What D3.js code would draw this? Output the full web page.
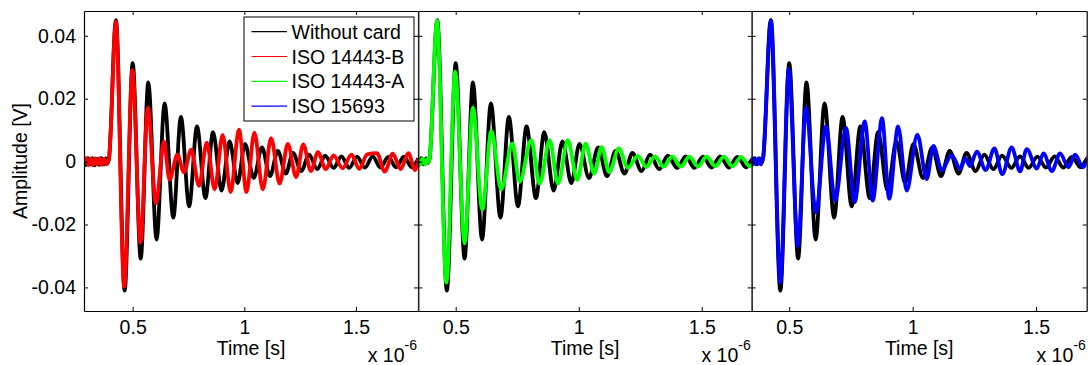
<!DOCTYPE html>
<html><head><meta charset="utf-8">
<script src="https://cdn.jsdelivr.net/npm/d3@7"></script>
<style>body{margin:0;background:#fff} svg{display:block} text{font-family:"Liberation Sans",Arial,Helvetica,sans-serif;fill:#000}</style>
</head><body><svg id="c" width="1089" height="365"></svg>
<script>
// ---- data (time in units of 1e-6 s, amplitude in V) ----
const xTicks = [0.5, 1, 1.5];
const xTickLabels = ["0.5", "1", "1.5"];
const yTicks = [-0.04, -0.02, 0, 0.02, 0.04];
const yTickLabels = ["-0.04", "-0.02", "0", "0.02", "0.04"];
const seriesNames = ["Without card", "ISO 14443-B", "ISO 14443-A", "ISO 15693"];
const seriesColors = ["#000000", "#ff0000", "#00ff00", "#0000ff"];
const panelXDomains = [[0.282, 1.778], [0.348, 1.703], [0.348, 1.705]];
const yDomain = [-0.0475, 0.0479];

const withoutCard = [[0.282,0.0006],[0.29,-0.0011],[0.30,0.0011],[0.31,-0.0009],[0.32,0.0011],[0.33,-0.0012],[0.34,0.0009],[0.35,-0.001],[0.36,0.0011],[0.37,-0.0009],[0.38,0.001],[0.389,-0.0004],[0.394,0.001],
 [0.425,0.045],[0.464,-0.041],[0.500,0.0313],[0.536,-0.0308],[0.570,0.0252],[0.607,-0.0248],[0.643,0.0185],[0.682,-0.0178],[0.716,0.0142],[0.753,-0.0142],[0.788,0.0112],[0.826,-0.0116],[0.860,0.0094],[0.898,-0.0092],[0.934,0.0064],[0.970,-0.0068],[1.003,0.0056],[1.042,-0.0052],[1.079,0.0045],[1.115,-0.0046],[1.150,0.0034],[1.186,-0.0038],[1.218,0.0028],[1.255,-0.003],[1.29,0.0022],[1.327,-0.0024],[1.362,0.0019],[1.40,-0.002],[1.435,0.0017],[1.47,-0.002],[1.505,0.0016],[1.54,-0.0019],[1.575,0.0017],[1.61,-0.0019],[1.645,0.0015],[1.68,-0.0018],[1.715,0.0016],[1.75,-0.0018],[1.78,0.001]];

const iso14443B = [[0.282,-0.0006],[0.292,0.0011],[0.302,-0.0011],[0.312,0.001],[0.322,-0.0012],[0.332,0.001],[0.342,-0.0009],[0.352,0.0011],[0.362,-0.001],[0.372,0.0009],[0.382,-0.0009],[0.39,0.0002],[0.394,0.001],
 [0.425,0.0445],[0.462,-0.0398],[0.499,0.029],[0.535,-0.0258],[0.568,0.0172],[0.604,-0.0133],[0.64,0.0064],[0.665,-0.0058],[0.70,0.0022],[0.73,-0.0034],[0.762,0.0038],[0.797,-0.0077],[0.832,0.006],[0.867,-0.0088],[0.903,0.0085],[0.939,-0.0097],[0.976,0.0102],[1.01,-0.0097],[1.045,0.0092],[1.083,-0.0088],[1.12,0.0075],[1.158,-0.007],[1.195,0.0056],[1.232,-0.0049],[1.264,0.0055],[1.298,-0.003],[1.33,0.003],[1.365,-0.0024],[1.40,0.002],[1.44,-0.0021],[1.48,0.0022],[1.515,-0.0023],[1.55,0.0023],[1.594,0.0027],[1.629,-0.0032],[1.665,0.0025],[1.70,-0.0024],[1.735,0.0027],[1.765,-0.0027],[1.78,0.0008]];

const iso14443A = [[0.282,0.0007],[0.30,-0.0009],[0.315,0.001],[0.33,-0.0009],[0.345,0.001],[0.355,-0.001],[0.365,0.001],[0.375,-0.0009],[0.385,0.0009],[0.39,-0.0002],[0.394,0.001],
 [0.424,0.0448],[0.462,-0.0385],[0.498,0.0286],[0.536,-0.026],[0.570,0.0172],[0.608,-0.0152],[0.645,0.0098],[0.685,-0.0088],[0.73,0.0058],[0.76,-0.0064],[0.807,0.0068],[0.841,-0.007],[0.882,0.0068],[0.916,-0.007],[0.956,0.0068],[0.994,-0.0058],[1.028,0.0057],[1.063,-0.0038],[1.093,0.0046],[1.124,-0.0033],[1.163,0.0042],[1.20,-0.002],[1.24,0.0018],[1.275,-0.0017],[1.31,0.0017],[1.345,-0.0016],[1.38,0.0017],[1.415,-0.0016],[1.45,0.0016],[1.485,-0.0016],[1.52,0.0016],[1.555,-0.0015],[1.59,0.0016],[1.625,-0.0015],[1.66,0.0015],[1.695,-0.0015],[1.73,0.0014],[1.78,0.0]];

const iso15693 = [[0.282,-0.0007],[0.30,0.001],[0.315,-0.001],[0.33,0.0009],[0.345,-0.001],[0.355,0.001],[0.365,-0.0009],[0.375,0.001],[0.385,-0.0009],[0.389,0.0002],[0.394,0.001],
 [0.426,0.045],[0.464,-0.0385],[0.498,0.0294],[0.535,-0.0268],[0.568,0.0172],[0.608,-0.0162],[0.649,0.0112],[0.686,-0.0124],[0.73,0.0107],[0.765,-0.0129],[0.806,0.0128],[0.838,-0.0124],[0.876,0.0138],[0.905,-0.0118],[0.941,0.0112],[0.976,-0.0092],[1.019,0.0086],[1.057,-0.0056],[1.084,0.005],[1.118,-0.0027],[1.158,0.0021],[1.192,-0.0022],[1.214,0.001],[1.232,-0.0014],[1.26,0.0032],[1.296,-0.0027],[1.331,0.0042],[1.363,-0.004],[1.401,0.0045],[1.435,-0.0031],[1.462,0.004],[1.503,-0.0022],[1.53,0.0026],[1.564,-0.003],[1.597,0.0026],[1.631,-0.0018],[1.658,0.0022],[1.69,-0.0018],[1.72,0.0015],[1.75,-0.0015],[1.78,0.001]];

const allSeries = [withoutCard, iso14443B, iso14443A, iso15693];
// which series each panel shows (drawn in order, last on top)
const panelSeries = [[0, 1], [0, 2], [0, 3]];

// ---- layout ----
const svg = d3.select("#c");
const plotTop = 11, plotBottom = 311;
const panelX = [[84, 418], [418.3, 751.7], [751.7, 1086.7]];
const y = d3.scaleLinear().domain(yDomain).range([plotBottom, plotTop]);
const tickLen = 4;
const fontSize = 19.5;

panelX.forEach(([x0, x1], p) => {
  const x = d3.scaleLinear().domain(panelXDomains[p]).range([x0, x1]);
  const g = svg.append("g");
  g.append("rect").attr("x", x0).attr("y", plotTop).attr("width", x1 - x0).attr("height", plotBottom - plotTop).attr("fill", "#fff");
  const cid = "clip" + p;
  g.append("clipPath").attr("id", cid).append("rect").attr("x", x0).attr("y", plotTop).attr("width", x1 - x0).attr("height", plotBottom - plotTop);
  const line = d3.line().x(d => x(d[0])).y(d => y(d[1])).curve(d3.curveMonotoneX);
  const dg = g.append("g").attr("clip-path", `url(#${cid})`);
  panelSeries[p].forEach(si => {
    dg.append("path").datum(allSeries[si]).attr("d", line)
      .attr("fill", "none").attr("stroke", seriesColors[si]).attr("stroke-width", 3.8)
      .attr("stroke-linejoin", "round");
  });
  // axes
  const ax = g.append("g");
  const bottomAxis = d3.axisBottom(x).tickValues(xTicks).tickFormat((d, i) => xTickLabels[i]).tickSize(-tickLen).tickSizeOuter(0).tickPadding(9);
  const topAxis = d3.axisTop(x).tickValues(xTicks).tickFormat("").tickSize(-tickLen).tickSizeOuter(0);
  const leftAxis = d3.axisLeft(y).tickValues(yTicks).tickFormat((d, i) => p === 0 ? yTickLabels[i] : "").tickSize(-tickLen).tickSizeOuter(0).tickPadding(8);
  const rightAxis = d3.axisRight(y).tickValues(yTicks).tickFormat("").tickSize(-tickLen).tickSizeOuter(0);
  [[bottomAxis, `translate(0,${plotBottom})`], [topAxis, `translate(0,${plotTop})`], [leftAxis, `translate(${x0},0)`], [rightAxis, `translate(${x1},0)`]].forEach(([a, t]) => {
    const s = ax.append("g").attr("transform", t).call(a);
    s.attr("font-size", fontSize).attr("font-family", null);
    s.selectAll("path.domain").attr("stroke", "#000").attr("stroke-width", 1.2);
    s.selectAll("line").attr("stroke", "#000").attr("stroke-width", 1);
    s.selectAll("text").attr("fill", "#000");
  });
  // x label
  g.append("text").attr("x", (x0 + x1) / 2).attr("y", 355).attr("text-anchor", "middle").attr("font-size", fontSize).text("Time [s]");
  // exponent
  const ex = g.append("text").attr("x", x1 - 1).attr("y", 362).attr("text-anchor", "end").attr("font-size", fontSize);
  ex.append("tspan").text("x 10");
  ex.append("tspan").attr("dy", -12).attr("font-size", 14).text("-6");
});

// y label
svg.append("text").attr("transform", "translate(27,161) rotate(-90)").attr("text-anchor", "middle").attr("font-size", fontSize).text("Amplitude [V]");

// legend
const lg = svg.append("g");
lg.append("rect").attr("x", 244).attr("y", 17).attr("width", 170).attr("height", 104).attr("fill", "#fff").attr("stroke", "#000").attr("stroke-width", 1);
seriesNames.forEach((n, i) => {
  const ly = 31.7 + i * 24.8;
  lg.append("line").attr("x1", 251.5).attr("x2", 287).attr("y1", ly).attr("y2", ly).attr("stroke", seriesColors[i]).attr("stroke-width", 1.2);
  lg.append("text").attr("x", 291.5).attr("y", ly + 7).attr("font-size", fontSize).text(n);
});
</script></body></html>
